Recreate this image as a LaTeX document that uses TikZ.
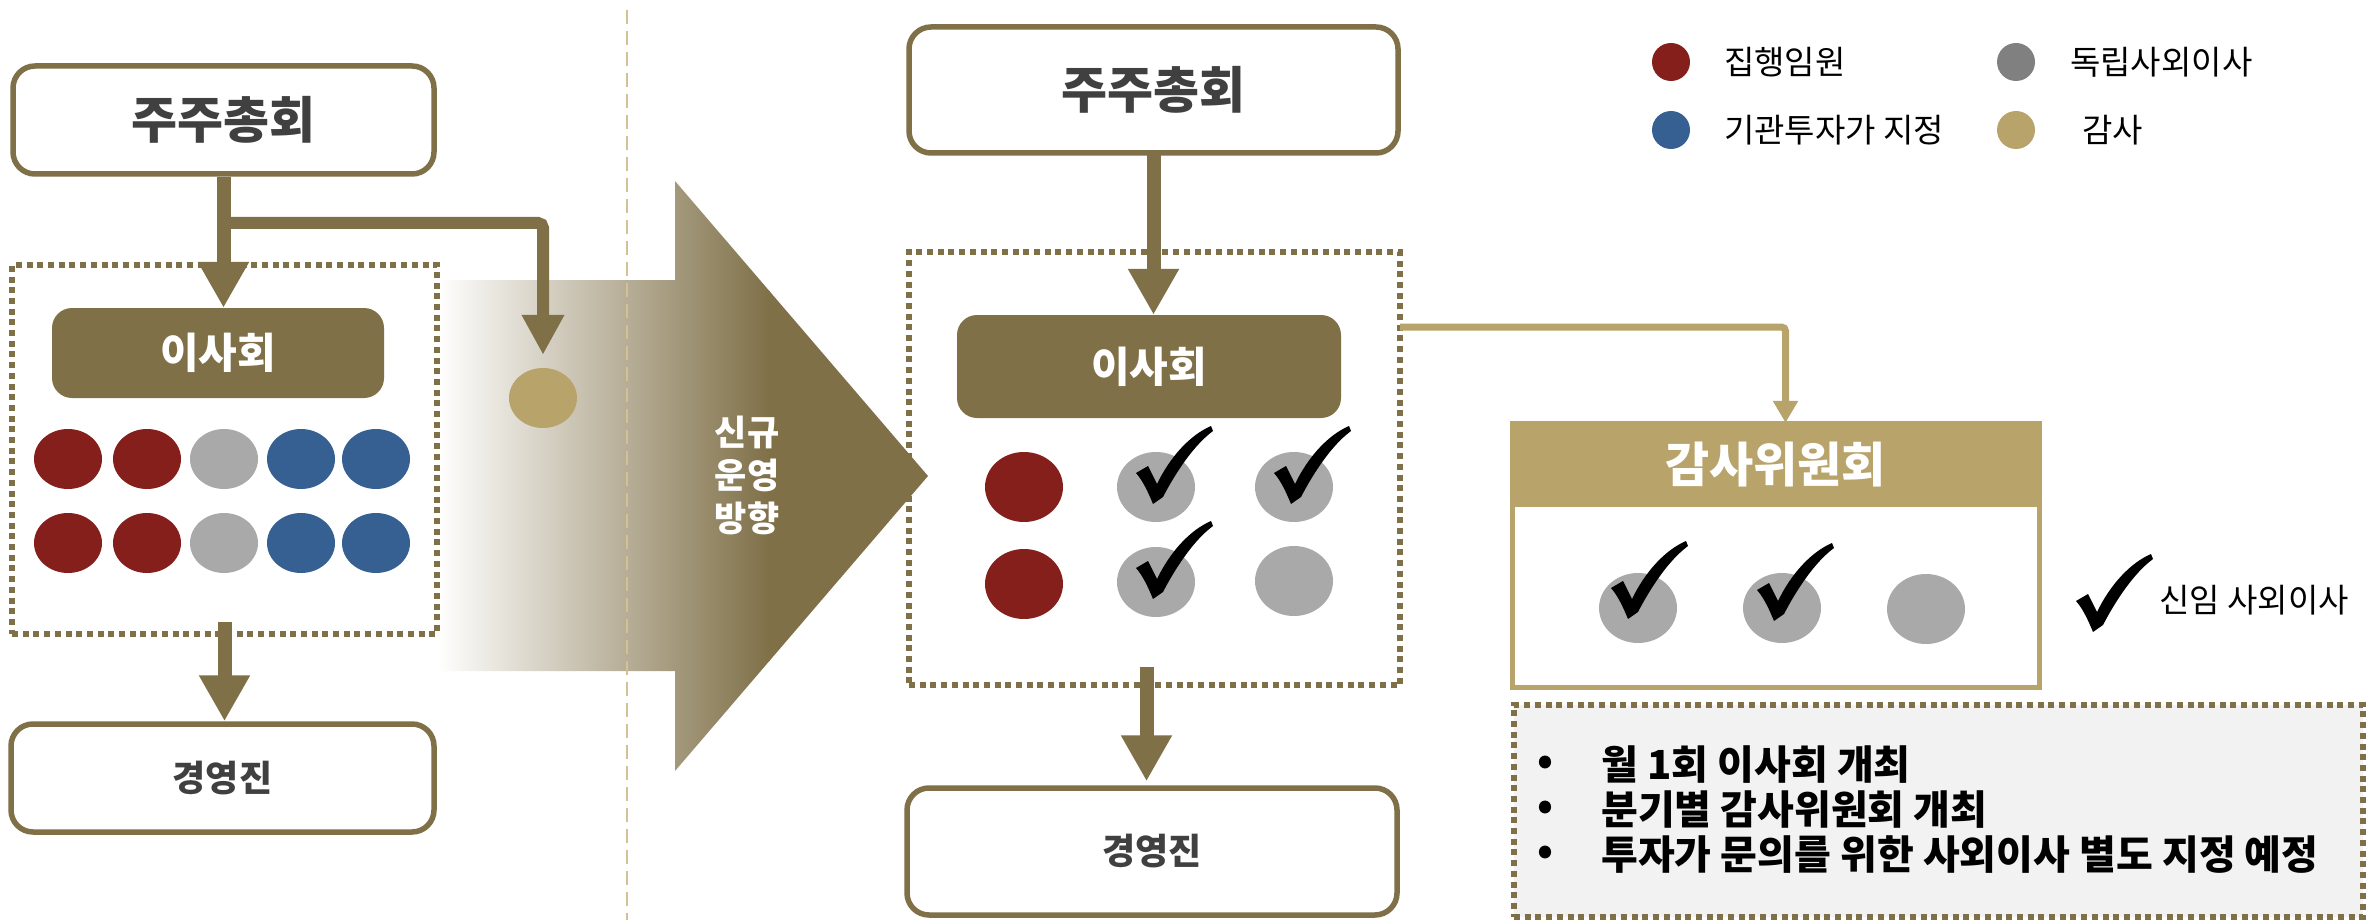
\documentclass[tikz,border=0pt]{standalone}
\usepackage{fontspec}
\setmainfont{Noto Sans CJK KR}
\usetikzlibrary{arrows.meta,shapes.geometric,calc}
\definecolor{ol}{HTML}{7F7048}
\definecolor{rd}{HTML}{841F1C}
\definecolor{gy}{HTML}{A9A9A9}
\definecolor{bl}{HTML}{366092}
\definecolor{gd}{HTML}{B8A46A}
\definecolor{lgy}{HTML}{808080}
\definecolor{txt}{HTML}{404040}
\definecolor{dashc}{HTML}{D4C193}
\definecolor{boxbg}{HTML}{F2F2F2}
\tikzset{
  ttl/.style={draw=ol, line width=5.5pt, rounded corners=22pt, fill=white, text=txt, font=\bfseries\fontsize{50}{58}\selectfont, inner sep=0pt},
  mgt/.style={draw=ol, line width=5.5pt, rounded corners=22pt, fill=white, text=txt, font=\bfseries\fontsize{36}{44}\selectfont, inner sep=0pt},
  board/.style={fill=ol, rounded corners=20pt, text=white, font=\bfseries\fontsize{42}{50}\selectfont, inner sep=0pt},
  dotbox/.style={draw=ol, line width=5.5pt, dash pattern=on 6pt off 4.7pt, inner sep=0pt},
  flow/.style={draw=ol, line width=14pt, -{Triangle[width=48pt,length=46pt]}},
  branch/.style={draw=ol, line width=12pt, rounded corners=5pt, -{Triangle[width=40pt,length=40pt]}},
  goldflow/.style={draw=gd, line width=7pt, rounded corners=4pt, -{Triangle[width=24pt,length=22pt]}},
  sdot/.style={ellipse, inner sep=0pt, minimum width=68pt, minimum height=60pt},
  bdot/.style={ellipse, inner sep=0pt, minimum width=78pt, minimum height=70pt},
  ldot/.style={circle, inner sep=0pt, minimum size=38pt},
  legtxt/.style={anchor=west, font=\fontsize{33}{38}\selectfont, text=black, inner sep=0pt},
  notetxt/.style={anchor=west, font=\bfseries\fontsize{40}{45}\selectfont, text=black, inner sep=0pt},
  chk/.pic={\fill[black] (-20,-14) -- (-8,-21) -- (1,-3) .. controls (14,-30) and (34,-52) .. (55,-61) -- (57,-56) .. controls (38,-42) and (20,-15) .. (7,10) -- (-3,17) .. controls (-8,5) and (-13,-6) .. cycle;}
}
\begin{document}
\begin{tikzpicture}[x=1pt,y=-1pt]
\fill[white] (0,0) rectangle (2377,920);
\useasboundingbox (0,0) rectangle (2377,920);

% ---------- right dotted board frame (under the big arrow)
\node[dotbox, minimum width=491pt, minimum height=433pt] (dot2) at (1154.5,468.5) {};

% ---------- big gradient arrow
\begin{scope}
  \clip (437,280) -- (675,280) -- (675,181) -- (928,476) -- (675,771) -- (675,671) -- (437,671) -- cycle;
  \shade[left color=white, right color=ol] (437,170) rectangle (770,780);
  \fill[ol] (769,170) rectangle (930,780);
\end{scope}
\node[text=white, align=center, font=\bfseries\fontsize{35}{43}\selectfont] (newdir) at (747,475) {신규\\운영\\방향};

% ---------- separator
\coordinate (sepA) at (627,10);
\coordinate (sepB) at (627,920);
\draw[dashc, line width=2.5pt, dash pattern=on 14pt off 7pt] (sepA) -- (sepB);

% ---------- LEFT (current)
\node[ttl, minimum width=421pt, minimum height=108pt] (gm1) at (223.5,120) {주주총회};
\node[dotbox, minimum width=425pt, minimum height=369pt] (dot1) at (224.5,449.5) {};
\node[board, minimum width=332pt, minimum height=90pt] (bd1) at (218,353) {이사회};
\foreach \xx/\cc [count=\i] in {68/rd,147/rd,224/gy,301/bl,376/bl}{
  \node[sdot, fill=\cc] (la\i) at (\xx,459) {};
  \node[sdot, fill=\cc] (lb\i) at (\xx,543) {};
}
\node[sdot, fill=gd] (aud) at (543,398) {};
\node[mgt, minimum width=423pt, minimum height=108pt] (mg1) at (222.5,778) {경영진};
\coordinate (br) at (226,223);
\draw[flow] (gm1.south) -- (gm1.south |- bd1.north);
\draw[branch, shorten >=13pt] (br) -| (aud.north);
\draw[flow] ($(dot1.south)+(0,-15)$) -- (dot1.south |- mg1.north);

% ---------- RIGHT (new)
\node[ttl, minimum width=489pt, minimum height=126pt] (gm2) at (1153.5,90) {주주총회};
\node[board, minimum width=384pt, minimum height=103pt] (bd2) at (1149,366.5) {이사회};
\node[bdot, fill=rd] (ra1) at (1024,487) {};
\node[bdot, fill=rd] (rb1) at (1024,584) {};
\node[bdot, fill=gy] (ra2) at (1156,487) {};
\node[bdot, fill=gy] (ra3) at (1294,487) {};
\node[bdot, fill=gy] (rb2) at (1156,582) {};
\node[bdot, fill=gy] (rb3) at (1294,581) {};
\pic at (ra2.center) {chk};
\pic at (ra3.center) {chk};
\pic at (rb2.center) {chk};
\node[mgt, minimum width=490pt, minimum height=127pt] (mg2) at (1152,851.5) {경영진};
\draw[flow] (gm2.south |- 0,153) -- (gm2.south |- bd2.north);
\draw[flow, shorten >=4pt] ($(dot2.south)+(-8,-21)$) -- ($(dot2.south |- mg2.north)+(-8,0)$);

% ---------- audit committee
\node[draw=gd, line width=5pt, fill=white, minimum width=527pt, minimum height=264pt, inner sep=0pt] (audc) at (1775.5,555) {};
\node[fill=gd, minimum width=532pt, minimum height=84pt, inner sep=0pt, text=white, font=\bfseries\fontsize{48}{56}\selectfont] (audh) at (1775.5,465) {감사위원회};
\node[bdot, fill=gy] (ac1) at (1638,608) {};
\node[bdot, fill=gy] (ac2) at (1782,608) {};
\node[bdot, fill=gy] (ac3) at (1926,609) {};
\pic at ($(ac1.center)+(-7,-6)$) {chk};
\pic at ($(ac2.center)+(-5,-4)$) {chk};
\coordinate (c1) at (1400,327);
\draw[goldflow] (c1) -| ($(audh.north)+(10,0)$);

% new director legend
\pic at (2096,615) {chk};
\node[legtxt] (newdirlbl) at (2159,600) {신임 사외이사};

% ---------- notes box
\node[fill=boxbg, dotbox, minimum width=849pt, minimum height=212pt] (notes) at (1938.5,811) {};
\foreach \yy/\tt [count=\i] in {765/월 1회 이사회 개최, 810/분기별 감사위원회 개최, 855/투자가 문의를 위한 사외이사 별도 지정 예정}{
  \node[notetxt] (bu\i) at (1537,\yy) {•};
  \node[notetxt] (nt\i) at (1601,\yy) {\tt};
}

% ---------- legend
\node[ldot, fill=rd] (lg1) at (1671,62) {};
\node[ldot, fill=bl] (lg2) at (1671,130) {};
\node[ldot, fill=lgy] (lg3) at (2016,62) {};
\node[ldot, fill=gd] (lg4) at (2016,130) {};
\node[legtxt] (lt1) at (1724,62) {집행임원};
\node[legtxt] (lt2) at (1724,130) {기관투자가 지정};
\node[legtxt] (lt3) at (2070,62) {독립사외이사};
\node[legtxt] (lt4) at (2082,130) {감사};
\end{tikzpicture}
\end{document}
